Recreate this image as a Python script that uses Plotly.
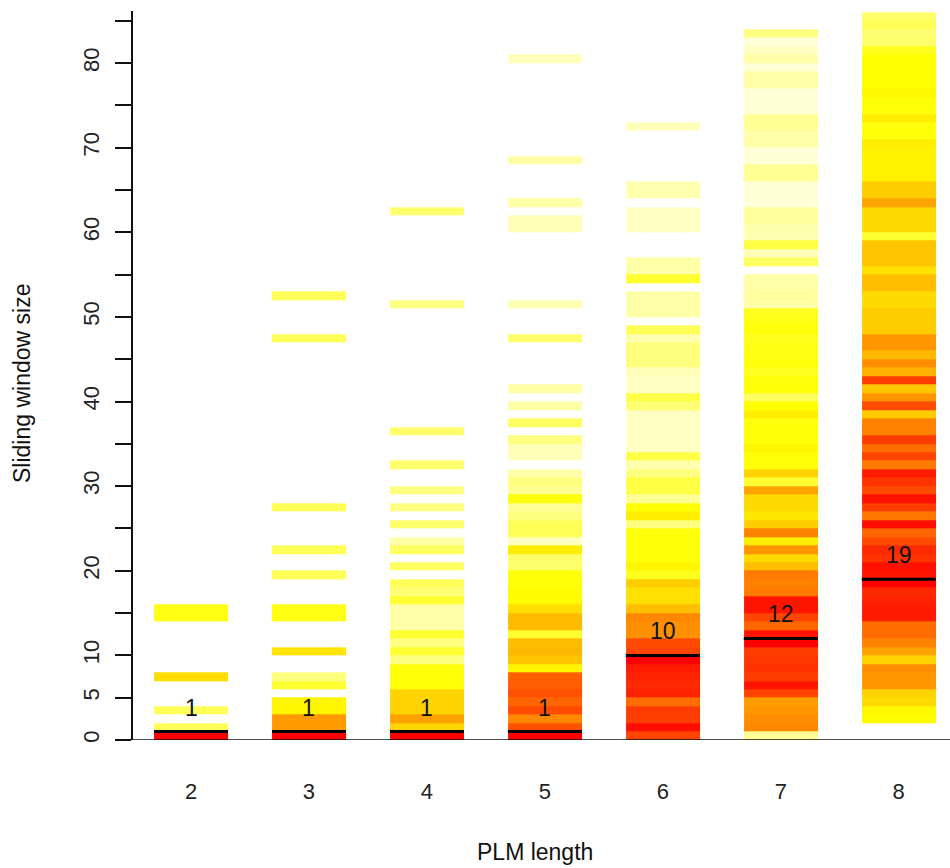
import plotly.graph_objects as go

# ---------------- data ----------------
plm_lengths = [2, 3, 4, 5, 6, 7, 8]
best_sizes = [1, 1, 1, 1, 10, 12, 19]

# score per window size (0 = red / best ... 100 = near-white / worst)
plm2_sizes = [1, 2, 4, 8, 15, 16]
plm2_vals = [0, 84, 84, 65, 77, 77]

plm3_sizes = [1, 2, 3, 4, 5, 7, 8, 11, 15, 16, 20, 23, 28, 48, 53]
plm3_vals = [0, 45, 45, 72, 72, 80, 88, 67, 77, 77, 84, 84, 84, 84, 84]

plm4_sizes = [1, 2, 3, 4, 5, 6, 7, 8, 9, 10, 11, 12, 13, 14, 15, 16, 17, 18, 19,
              21, 23, 24, 26, 28, 30, 33, 37, 52, 63]
plm4_vals = [0, 62, 48, 62, 62, 62, 76, 76, 76, 88, 80, 88, 80, 92, 92, 92, 80, 87, 84,
             85, 85, 92, 86, 88, 88, 86, 86, 88, 86]

plm5_sizes = [1, 2, 3, 4, 5, 6, 7, 8, 9, 10, 11, 12, 13, 14, 15, 16, 17, 18, 19, 20,
              21, 22, 23, 24, 25, 26, 27, 28, 29, 30, 31, 32,
              34, 35, 36, 38, 40, 42, 48, 52, 61, 62, 64, 69, 81]
plm5_vals = [0, 24, 40, 22, 30, 24, 28, 28, 72, 58, 54, 56, 80, 55, 55, 66, 74, 74, 76, 76,
             86, 86, 70, 95, 84, 84, 88, 90, 76, 90, 88, 92,
             94, 94, 88, 85, 92, 92, 86, 93, 94, 94, 92, 92, 94]

plm6_sizes = [1, 2, 3, 4, 5, 6, 7, 8, 9, 10, 11, 12, 13, 14, 15, 16, 17, 18, 19, 20,
              21, 22, 23, 24, 25, 26, 27, 28, 29, 30, 31, 32, 33, 34, 35, 36, 37, 38, 39, 40,
              41, 42, 43, 44, 45, 46, 47, 48, 49,
              51, 52, 53, 55, 56, 57, 61, 62, 63, 65, 66, 73]
plm6_vals = [20, 4, 18, 18, 32, 10, 12, 10, 8, 0, 20, 22, 42, 42, 40, 56, 66, 66, 60, 78,
             72, 76, 76, 76, 76, 88, 70, 75, 90, 82, 82, 88, 93, 82, 95, 95, 95, 95, 95, 87,
             82, 95, 95, 94, 88, 88, 88, 93, 84,
             92, 92, 92, 80, 92, 92, 95, 95, 95, 93, 93, 94]

plm7_sizes = [1, 2, 3, 4, 5, 6, 7, 8, 9, 10, 11, 12, 13, 14, 15, 16, 17, 18, 19, 20,
              21, 22, 23, 24, 25, 26, 27, 28, 29, 30, 31, 32, 33, 34, 35, 36, 37, 38, 39, 40,
              41, 42, 43, 44, 45, 46, 47, 48, 49, 50, 51, 52, 53, 54, 55,
              57, 58, 59, 60, 61, 62, 63, 64, 65, 66, 67, 68, 69, 70, 71, 72, 73, 74, 75, 76,
              77, 78, 79, 80, 81, 82, 83, 84]
plm7_vals = [90, 40, 42, 44, 46, 20, 6, 18, 15, 16, 18, 0, 6, 30, 20, 6, 6, 36, 38, 36,
             56, 64, 44, 70, 38, 60, 68, 64, 64, 48, 80, 62, 76, 76, 72, 76, 76, 76, 70, 75,
             85, 76, 76, 78, 76, 77, 77, 78, 76, 77, 78, 92, 91, 92, 92,
             85, 94, 82, 93, 93, 91, 91, 97, 97, 97, 90, 90, 97, 97, 92, 92, 90, 90, 97, 97,
             97, 92, 92, 97, 92, 95, 97, 88]

plm8_sizes = [3, 4, 5, 6, 7, 8, 9, 10, 11, 12, 13, 14, 15, 16, 17, 18, 19, 20, 21, 22,
              23, 24, 25, 26, 27, 28, 29, 30, 31, 32, 33, 34, 35, 36, 37, 38, 39, 40, 41, 42,
              43, 44, 45, 46, 47, 48, 49, 50, 51, 52, 53, 54, 55, 56, 57, 58, 59, 60, 61, 62,
              63, 64, 65, 66, 67, 68, 69, 70, 71, 72, 73, 74, 75, 76, 77, 78, 79, 80, 81, 82,
              83, 84, 85, 86]
plm8_vals = [74, 73, 64, 62, 44, 44, 42, 62, 48, 38, 32, 32, 8, 8, 10, 12, 0, 6, 5, 15,
             12, 22, 30, 4, 35, 18, 5, 22, 15, 8, 36, 20, 32, 18, 38, 38, 60, 22, 44, 58,
             18, 52, 42, 54, 44, 44, 60, 60, 60, 64, 64, 56, 56, 66, 58, 58, 58, 80, 64, 64,
             64, 48, 60, 60, 71, 71, 71, 71, 70, 76, 76, 70, 76, 76, 73, 75, 75, 75, 75, 78,
             86, 87, 84, 86]

y_tick_vals = [0, 5, 10, 15, 20, 25, 30, 35, 40, 45, 50, 55, 60, 65, 70, 75, 80, 85]
y_tick_text = ["0", "5", "10", "", "20", "", "30", "", "40", "", "50", "", "60", "", "70", "", "80", ""]

# ---------------- build heatmap grid ----------------
columns = [
    (plm2_sizes, plm2_vals), (plm3_sizes, plm3_vals), (plm4_sizes, plm4_vals),
    (plm5_sizes, plm5_vals), (plm6_sizes, plm6_vals), (plm7_sizes, plm7_vals),
    (plm8_sizes, plm8_vals),
]
max_size = max(max(s) for s, _ in columns)
row_sizes = list(range(1, max_size + 1))
z = [[None] * len(plm_lengths) for _ in row_sizes]
for ci, (sizes, vals) in enumerate(columns):
    for s, v in zip(sizes, vals):
        z[s - 1][ci] = v
# each window size k occupies the band [k-1, k]
y_centers = [k - 0.5 for k in row_sizes]

heat = [[0.0, "#FF0000"], [0.25, "#FF5500"], [0.5, "#FFAA00"],
        [0.75, "#FFFF00"], [1.0, "#FFFFF5"]]

fig = go.Figure()
fig.add_trace(go.Heatmap(
    x=plm_lengths, y=y_centers, z=z, colorscale=heat, zmin=0, zmax=100,
    showscale=False, xgap=44, ygap=0, hoverongaps=False,
))

half_w = 0.3136
for xc, b in zip(plm_lengths, best_sizes):
    fig.add_shape(type="line", xref="x", yref="y", x0=xc - half_w, x1=xc + half_w,
                  y0=b, y1=b, line=dict(color="black", width=3))
    fig.add_annotation(x=xc, y=b, text=str(b), showarrow=False, yshift=24,
                       font=dict(family="Liberation Sans, Arial", size=23, color="#111111"))

# bottom base line (extends slightly left of the y axis)
fig.add_shape(type="line", xref="paper", yref="y", x0=-0.0184, x1=1.0, y0=0, y1=0,
              line=dict(color="#111111", width=1.6))

tick_font = dict(family="Liberation Sans Narrow, Liberation Sans, Arial", size=22, color="#222222")

fig.update_layout(
    width=950, height=868,
    margin=dict(l=133, r=0, t=11, b=128),
    paper_bgcolor="white", plot_bgcolor="white",
    showlegend=False,
    xaxis=dict(range=[1.508, 8.435], tickvals=plm_lengths, ticktext=[str(v) for v in plm_lengths],
               showgrid=False, zeroline=False, showline=False, ticks="",
               tickfont=tick_font, ticklabelstandoff=36),
    yaxis=dict(range=[0, 86.15], tickvals=y_tick_vals, ticktext=y_tick_text,
               showgrid=False, zeroline=False, showline=True, linecolor="#111111", linewidth=1.6,
               ticks="outside", ticklen=16, tickwidth=1.6, tickcolor="#111111",
               tickangle=-90, tickfont=tick_font, ticklabelstandoff=7),
)

fig.add_annotation(xref="paper", yref="paper", x=(535 - 133) / 817, y=(740 - 852) / 729,
                   text="PLM length", showarrow=False, yanchor="middle",
                   font=dict(family="Liberation Sans, Arial", size=23, color="#111111"))
fig.add_annotation(xref="paper", yref="paper", x=(22 - 133) / 817, y=(740 - 383) / 729,
                   text="Sliding window size", showarrow=False, textangle=-90, xanchor="center",
                   font=dict(family="Liberation Sans, Arial", size=23, color="#111111"))

fig.write_html("out.html")
